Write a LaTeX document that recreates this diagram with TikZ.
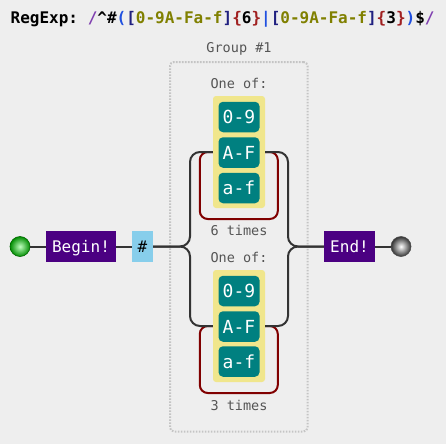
\documentclass[tikz,border=0pt]{standalone}
\usepackage{fontspec}
\setmonofont{DejaVu Sans Mono}
\definecolor{bgc}{HTML}{EEEEEE}
\definecolor{wirec}{HTML}{333333}
\definecolor{loopc}{HTML}{800000}
\definecolor{tealc}{HTML}{008080}
\definecolor{termc}{HTML}{4B0082}
\definecolor{khakic}{HTML}{F0E68C}
\definecolor{skyc}{HTML}{87CEEB}
\definecolor{lblc}{HTML}{555555}
\definecolor{grpc}{HTML}{C4C4C4}
\definecolor{slashc}{HTML}{8040B0}
\definecolor{parenc}{HTML}{2050E0}
\definecolor{brackc}{HTML}{202080}
\definecolor{olivec}{HTML}{808000}
\definecolor{bracec}{HTML}{A02020}
\tikzset{
  wire/.style={draw=wirec, line width=2pt},
  loopw/.style={draw=loopc, line width=2pt, rounded corners=8pt},
  termbox/.style={fill=termc, text=white, inner sep=0pt, minimum height=31pt,
    text height=11.7pt, text depth=0pt, font=\ttfamily\fontsize{16}{16}\selectfont},
  charbox/.style={fill=tealc, text=white, rounded corners=4.5pt, inner sep=0pt,
    minimum width=41pt, minimum height=30.5pt, text height=13pt, text depth=0pt,
    font=\ttfamily\fontsize{18}{18}\selectfont},
  setbox/.style={fill=khakic, rounded corners=3pt, inner sep=0pt,
    minimum width=52pt, minimum height=112pt},
  lbl/.style={text=lblc, anchor=base, inner sep=0pt, font=\ttfamily\fontsize{13.5}{14}\selectfont},
  grpbox/.style={draw=grpc, line width=2pt, dash pattern=on 1.6pt off 1.4pt,
    rounded corners=4pt, inner sep=0pt},
}
\begin{document}
\begin{tikzpicture}[x=1pt,y=-1pt]
\useasboundingbox[fill=bgc] (0,0) rectangle (446,444);
% title
\node[anchor=base west, inner sep=0pt, font=\ttfamily\bfseries\fontsize{16}{16}\selectfont] (title) at (10.5,23.5)
 {RegExp: \textcolor{slashc}{/}\textasciicircum\#\textcolor{parenc}{(}\textcolor{brackc}{[}\textcolor{olivec}{0-9A-Fa-f}\textcolor{brackc}{]}\textcolor{bracec}{\{}6\textcolor{bracec}{\}}\textcolor{parenc}{\textbar}\textcolor{brackc}{[}\textcolor{olivec}{0-9A-Fa-f}\textcolor{brackc}{]}\textcolor{bracec}{\{}3\textcolor{bracec}{\}}\textcolor{parenc}{)}\$\textcolor{slashc}{/}};
% group
\node[grpbox, minimum width=137.5pt, minimum height=369.5pt] (grp) at (238.75,246.75) {};
\node[lbl] (grplbl) at (239,52.5) {Group \#1};
% labels
\node[lbl] (oneA) at (239,88.3) {One of:};
\node[lbl] (timesA) at (239,235.7) {6 times};
\node[lbl] (oneB) at (239,262.5) {One of:};
\node[lbl] (timesB) at (239,410) {3 times};
% sets
\node[setbox] (yA) at (239,152) {};
\node[setbox] (yB) at (239,326) {};
% loops
\draw[loopw] (yA.west) -- ++(-13,0) -- ++(0,67) -- ++(78,0) -- ++(0,-67) -- (yA.east);
\draw[loopw] (yB.west) -- ++(-13,0) -- ++(0,67) -- ++(78,0) -- ++(0,-67) -- (yB.east);
% chars
\node[charbox] (a1) at (239,117) {0-9};
\node[charbox] (a2) at (239,152.5) {A-F};
\node[charbox] (a3) at (239,188) {a-f};
\node[charbox] (b1) at (239,291) {0-9};
\node[charbox] (b2) at (239,326.5) {A-F};
\node[charbox] (b3) at (239,361.5) {a-f};
% main line nodes
\node[circle, minimum size=20pt, inner sep=0pt, inner color=green!25!white, outer color=green!55!black, draw=green!40!black, line width=0.6pt] (start) at (20,246.5) {};
\node[termbox, minimum width=70pt] (begin) at (81,246.5) {Begin!};
\node[fill=skyc, inner sep=0pt, minimum width=21pt, minimum height=31pt, text height=11.7pt, text depth=0pt, font=\ttfamily\fontsize{16}{16}\selectfont] (hash) at (142.5,246.5) {\#};
\node[termbox, minimum width=51pt] (end) at (349.5,246.5) {End!};
\node[circle, minimum size=20pt, inner sep=0pt, inner color=white, outer color=black!80, draw=black!70, line width=0.6pt] (stop) at (401,246.5) {};
\coordinate (jl) at (190,246.5);
\coordinate (jr) at (288,246.5);
% wires
\draw[wire] (start) -- (begin);
\draw[wire] (begin) -- (hash);
\draw[wire, rounded corners=10pt] (hash.east) -- (jl) |- (yA.west);
\draw[wire, rounded corners=10pt] (hash.east) -- (jl) |- (yB.west);
\draw[wire, rounded corners=10pt] (yA.east) -| (jr) -- (end.west);
\draw[wire, rounded corners=10pt] (yB.east) -| (jr) -- (end.west);
\draw[wire] (end) -- (stop);
\end{tikzpicture}
\end{document}
